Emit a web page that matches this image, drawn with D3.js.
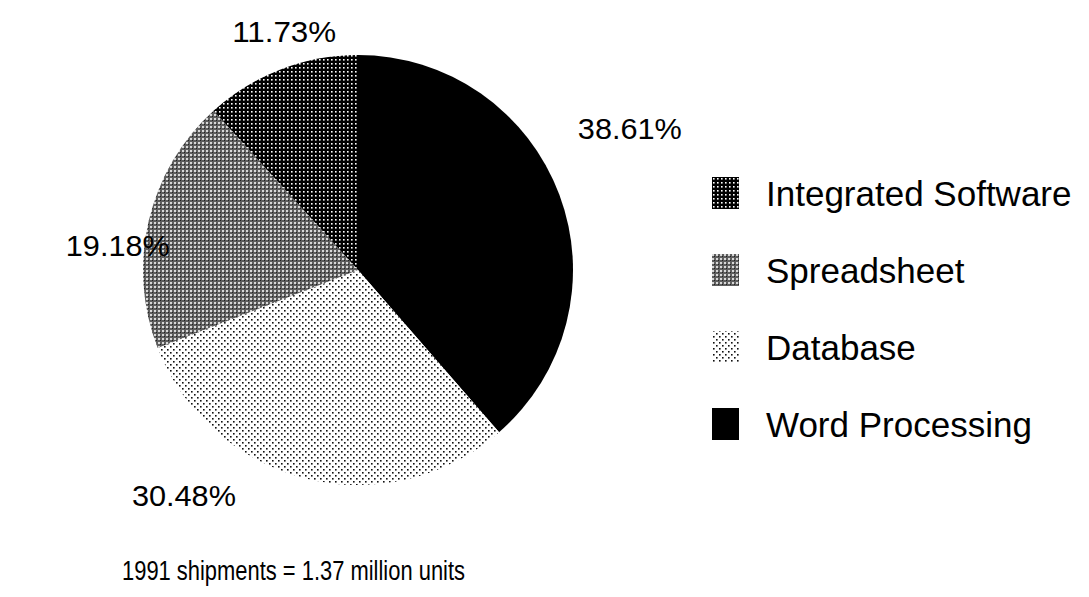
<!DOCTYPE html>
<html>
<head>
<meta charset="utf-8">
<script src="https://cdn.jsdelivr.net/npm/d3@7"></script>
<style>
  html, body { margin: 0; padding: 0; background: #fff; }
  svg { display: block; }
  text { font-family: "Liberation Sans", Arial, Helvetica, sans-serif; fill: #000; }
</style>
</head>
<body>
<svg id="chart" width="1089" height="597"></svg>
<script>
// pie order = drawing order, clockwise from 12 o'clock
const categories = ['Word Processing', 'Database', 'Spreadsheet', 'Integrated Software'];
const shares = [38.61, 30.48, 19.18, 11.73];
const shareLabels = ['38.61%', '30.48%', '19.18%', '11.73%'];
const legendOrder = ['Integrated Software', 'Spreadsheet', 'Database', 'Word Processing'];
const caption = '1991 shipments = 1.37 million units';

// label nudges away from the plain centroid (the old chart put them by hand)
const labelNudge = [[33, -52], [-113, -22], [8, 34], [18, -1]];

const W = 1089, H = 597;
const cx = 358, cy = 270, radius = 215;

const svg = d3.select('#chart');
const defs = svg.append('defs');

// bitmap-ish fill patterns
function pattern(id, size, draw) {
  const p = defs.append('pattern')
    .attr('id', id)
    .attr('patternUnits', 'userSpaceOnUse')
    .attr('width', size).attr('height', size);
  draw(p);
}
pattern('pat-int', 4, p => {
  p.append('rect').attr('width', 4).attr('height', 4).attr('fill', '#000');
  p.append('rect').attr('x', 1).attr('y', 1).attr('width', 1.6).attr('height', 1.6).attr('fill', '#fff');
});
pattern('pat-sheet', 4, p => {
  p.append('rect').attr('width', 4).attr('height', 4).attr('fill', '#5e5e5e');
  p.append('rect').attr('x', 0).attr('y', 0).attr('width', 2).attr('height', 2).attr('fill', '#d8d8d8');
  p.append('rect').attr('x', 2).attr('y', 2).attr('width', 1).attr('height', 1).attr('fill', '#222');
});
pattern('pat-db', 6, p => {
  p.append('rect').attr('width', 6).attr('height', 6).attr('fill', '#fff');
  p.append('rect').attr('x', 1).attr('y', 1).attr('width', 1.6).attr('height', 1.6).attr('fill', '#111');
  p.append('rect').attr('x', 4).attr('y', 4).attr('width', 1.6).attr('height', 1.6).attr('fill', '#111');
});

const fill = d3.scaleOrdinal()
  .domain(categories)
  .range(['#000', 'url(#pat-db)', 'url(#pat-sheet)', 'url(#pat-int)']);

const pie = d3.pie().sort(null).value(d => d.value);
const arcs = pie(categories.map((c, i) => ({ name: c, value: shares[i], label: shareLabels[i] })));
const arc = d3.arc().innerRadius(0).outerRadius(radius);
const labelArc = d3.arc().innerRadius(255).outerRadius(255);

const g = svg.append('g').attr('transform', `translate(${cx},${cy})`);
g.selectAll('path.slice')
  .data(arcs)
  .join('path')
  .attr('class', 'slice')
  .attr('d', arc)
  .attr('fill', d => fill(d.data.name));

g.selectAll('text.pct')
  .data(arcs)
  .join('text')
  .attr('class', 'pct')
  .attr('x', (d, i) => labelArc.centroid(d)[0] + labelNudge[i][0])
  .attr('y', (d, i) => labelArc.centroid(d)[1] + labelNudge[i][1])
  .attr('dy', '0.36em')
  .attr('text-anchor', 'middle')
  .attr('font-size', 29)
  .attr('textLength', 104)
  .attr('lengthAdjust', 'spacingAndGlyphs')
  .text(d => d.data.label);

// legend
const legendY = d3.scalePoint().domain(legendOrder).range([193, 424]);
const lg = svg.append('g');
const rows = lg.selectAll('g.row')
  .data(legendOrder)
  .join('g')
  .attr('class', 'row')
  .attr('transform', d => `translate(712,${legendY(d)})`);
rows.append('rect')
  .attr('x', 0).attr('y', -16)
  .attr('width', 27).attr('height', 32)
  .attr('fill', d => fill(d));
rows.append('text')
  .attr('x', 54)
  .attr('dy', '0.36em')
  .attr('font-size', 35)
  .text(d => d);

svg.append('text')
  .attr('x', 122)
  .attr('y', 580)
  .attr('font-size', 27)
  .attr('textLength', 343)
  .attr('lengthAdjust', 'spacingAndGlyphs')
  .text(caption);
</script>
</body>
</html>
